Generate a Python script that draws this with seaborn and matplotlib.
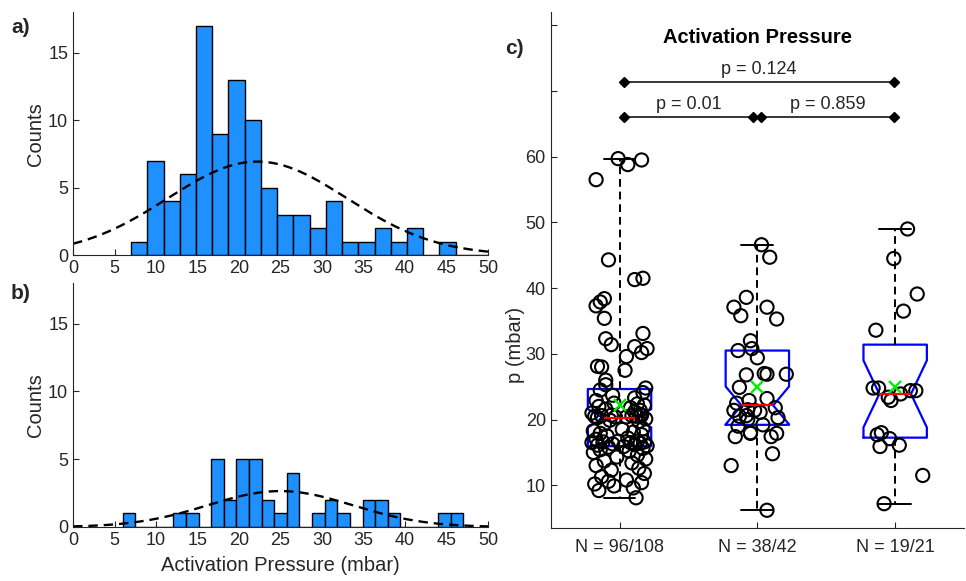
import matplotlib
matplotlib.use('Agg')
import matplotlib.pyplot as plt
import numpy as np
import pandas as pd
import seaborn as sns

# dados (mbar)
grupo1 = [8.1, 9.2, 9.6, 9.9, 10.2, 10.4, 10.6, 10.8, 11.3, 11.8,
          12.3, 12.6, 13.0, 13.4, 13.7, 14.0, 14.3, 14.6, 15.0, 15.2,
          15.4, 15.6, 15.8, 15.9, 16.0, 16.1, 16.2, 16.3, 16.4, 16.5,
          16.5, 16.6, 16.6, 16.7, 16.7, 17.0, 17.2, 17.5, 17.7, 17.9,
          18.1, 18.3, 18.5, 18.6, 19.3, 19.7, 19.9, 20.1, 20.3, 20.4,
          20.4, 20.5, 20.5, 20.6, 20.6, 20.65, 20.67, 20.8, 21.0, 21.2,
          21.4, 21.6, 21.8, 22.0, 22.2, 22.4, 22.5, 22.9, 23.3, 23.7,
          24.1, 24.5, 24.8, 25.3, 26.0, 27.5, 28.0, 28.1, 29.6, 30.2,
          30.8, 31.1, 31.4, 32.3, 33.1, 35.4, 37.3, 37.9, 38.4, 41.3,
          41.5, 44.3, 56.5, 58.8, 59.5, 59.7]
jitter1 = [0.12, -0.15, 0.10, -0.04, -0.18, 0.16, -0.08, 0.05, -0.13, 0.18,
           -0.06, 0.14, -0.17, 0.09, -0.11, 0.19, -0.02, 0.13, -0.19, 0.07,
           -0.14, 0.17, -0.08, 0.03, 0.20, -0.16, 0.11, -0.05, 0.15, -0.20,
           0.08, -0.12, 0.18, -0.01, 0.13, -0.17, 0.06, -0.09, 0.16, -0.14,
           0.10, -0.19, 0.02, 0.17, -0.11, 0.14, -0.07, 0.19, -0.16, 0.05,
           -0.03, 0.12, -0.18, 0.09, -0.13, 0.16, -0.06, 0.15, -0.20, 0.11,
           0.15, -0.10, 0.08, -0.15, 0.18, 0.13, -0.04, -0.17, 0.11, -0.05,
           0.17, -0.14, 0.19, -0.10, -0.10, 0.04, -0.13, -0.16, 0.05, 0.16,
           0.20, 0.11, -0.06, -0.10, 0.17, -0.11, -0.17, -0.14, -0.11, 0.11,
           0.17, -0.08, -0.17, 0.06, 0.16, -0.01]

grupo2 = [46.6, 44.7, 38.6, 37.1, 35.8, 37.1, 35.3, 32.0, 30.5, 30.8,
          29.4, 26.8, 27.0, 26.9, 26.9, 24.9, 23.2, 22.9, 22.5, 21.4,
          21.5, 21.4, 20.6, 20.5, 20.0, 21.1, 21.8, 20.3, 19.0, 19.2,
          18.0, 17.4, 17.9, 17.4, 17.9, 14.8, 13.0, 6.2]
jitter2 = [0.03, 0.09, -0.08, -0.17, -0.12, 0.07, 0.14, -0.05, -0.14, -0.04,
           0.00, -0.08, 0.05, 0.07, 0.21, -0.13, 0.07, -0.06, -0.15, -0.17,
           -0.07, -0.02, -0.08, -0.13, -0.07, 0.02, 0.13, 0.15, -0.14, 0.04,
           -0.05, -0.16, -0.05, 0.10, 0.14, 0.11, -0.19, 0.07]

grupo3 = [49.0, 44.5, 39.1, 36.5, 33.6, 24.8, 24.8, 22.9, 23.4, 23.9,
          24.4, 24.4, 17.7, 18.0, 17.1, 15.9, 16.1, 11.5, 7.2]
jitter3 = [0.09, -0.01, 0.16, 0.06, -0.14, -0.16, -0.12, -0.03, -0.05, 0.04,
           0.11, 0.15, -0.13, -0.10, -0.04, -0.11, 0.03, 0.20, -0.08]

rotulos = ['N = 96/108', 'N = 38/42', 'N = 19/21']
p_valores = ['p = 0.01', 'p = 0.859', 'p = 0.124']

# larguras das classes dos histogramas
bins_a = 7.0 + 1.955 * np.arange(28)
bins_b = 6.0 + 1.52 * np.arange(28)

sns.set_style('white')
plt.rcParams['font.family'] = ['Liberation Sans', 'DejaVu Sans']
cinza = '#262626'
plt.rcParams['axes.edgecolor'] = cinza
plt.rcParams['xtick.color'] = cinza
plt.rcParams['ytick.color'] = cinza
plt.rcParams['axes.labelcolor'] = cinza

fig = plt.figure(figsize=(9.66, 5.81), dpi=100)
ax_a = fig.add_axes([0.0756, 0.561, 0.4296, 0.418])
ax_b = fig.add_axes([0.0756, 0.093, 0.4296, 0.42])
ax_c = fig.add_axes([0.570, 0.0912, 0.428, 0.888])


def histfit(ax, dados, bins):
    dados = np.asarray(dados)
    sns.histplot(x=dados, bins=bins, color='#1E90FF', edgecolor='black',
                 linewidth=1.0, alpha=1, ax=ax)
    mu, sd = dados.mean(), dados.std(ddof=1)
    bw = bins[1] - bins[0]
    xs = np.linspace(0, 50, 300)
    ys = len(dados) * bw / (sd * np.sqrt(2 * np.pi)) * np.exp(-0.5 * ((xs - mu) / sd) ** 2)
    ax.plot(xs, ys, color='black', ls=(0, (4, 2.5)), lw=1.7)
    ax.set_xlim(0, 50)
    ax.set_ylim(0, 18)
    ax.set_xticks(range(0, 51, 5))
    ax.set_yticks([0, 5, 10, 15])
    ax.set_ylabel('Counts', fontsize=14.5, labelpad=2)
    ax.set_xlabel('')
    ax.tick_params(direction='in', length=4, labelsize=13, width=0.8,
                   bottom=True, left=True)
    sns.despine(ax=ax)


histfit(ax_a, grupo1, bins_a)
histfit(ax_b, grupo2, bins_b)
ax_b.set_xlabel('Activation Pressure (mbar)', fontsize=14.5, labelpad=5)

# painel c - boxplots com entalhe
grupos = [np.array(grupo1), np.array(grupo2), np.array(grupo3)]
stats = []
for g in grupos:
    q1, med, q3 = np.percentile(g, [25, 50, 75], method='hazen')
    iqr = q3 - q1
    n = len(g)
    stats.append(dict(med=med, q1=q1, q3=q3, whislo=g.min(), whishi=g.max(),
                      mean=g.mean(), cilo=med - 1.57 * iqr / np.sqrt(n),
                      cihi=med + 1.57 * iqr / np.sqrt(n), fliers=[]))

ax_c.bxp(stats, positions=[1, 2, 3], widths=0.46, shownotches=True,
         showmeans=True, showfliers=False, manage_ticks=False,
         boxprops=dict(color='blue', lw=1.6),
         medianprops=dict(color='red', lw=1.6, zorder=5),
         whiskerprops=dict(color='black', ls=(0, (4, 2.5)), lw=1.4),
         capprops=dict(color='black', lw=1.4),
         meanprops=dict(marker='x', markeredgecolor='#00EE00', markersize=9,
                        markeredgewidth=1.7, zorder=6))

df = pd.DataFrame({
    'x': np.concatenate([1 + np.array(jitter1), 2 + np.array(jitter2), 3 + np.array(jitter3)]),
    'p': np.concatenate(grupos),
})
sns.scatterplot(data=df, x='x', y='p', marker='o', s=90, facecolors='none',
                edgecolors='black', linewidth=1.5, ax=ax_c, zorder=4)

# barras de significancia
linhas = [((1.03, 1.97), 66.0), ((2.03, 2.99), 66.0), ((1.03, 2.99), 71.3)]
for (x0, x1), y in linhas:
    ax_c.plot([x0, x1], [y, y], color='black', lw=1.1, marker='D', ms=5)
for ((x0, x1), y), txt in zip(linhas, p_valores):
    ax_c.text((x0 + x1) / 2, y + 0.6, txt, ha='center', va='bottom', fontsize=13, color=cinza)

ax_c.text(2.0, 78.1, 'Activation Pressure', ha='center', va='center',
          fontsize=14.5, fontweight='bold', color='black')

ax_c.set_xlim(0.5, 3.5)
ax_c.set_ylim(3.5, 82)
ax_c.set_xticks([1, 2, 3])
ax_c.set_xticklabels(rotulos)
ax_c.set_yticks(range(10, 81, 10))
ax_c.set_yticklabels(['10', '20', '30', '40', '50', '60', '', ''])
ax_c.set_xlabel('')
ax_c.set_ylabel('p (mbar)', fontsize=14.5)
ax_c.yaxis.set_label_coords(-0.062, 0.355)
ax_c.tick_params(direction='in', length=4, labelsize=13, width=0.8,
                 bottom=True, left=True)
ax_c.tick_params(axis='x', pad=8)
sns.despine(ax=ax_c)

fig.text(0.021, 0.952, 'a)', fontsize=15, fontweight='bold', ha='center', va='center')
fig.text(0.021, 0.494, 'b)', fontsize=15, fontweight='bold', ha='center', va='center')
fig.text(0.533, 0.917, 'c)', fontsize=15, fontweight='bold', ha='center', va='center')

fig.savefig('out.png', dpi=100)
